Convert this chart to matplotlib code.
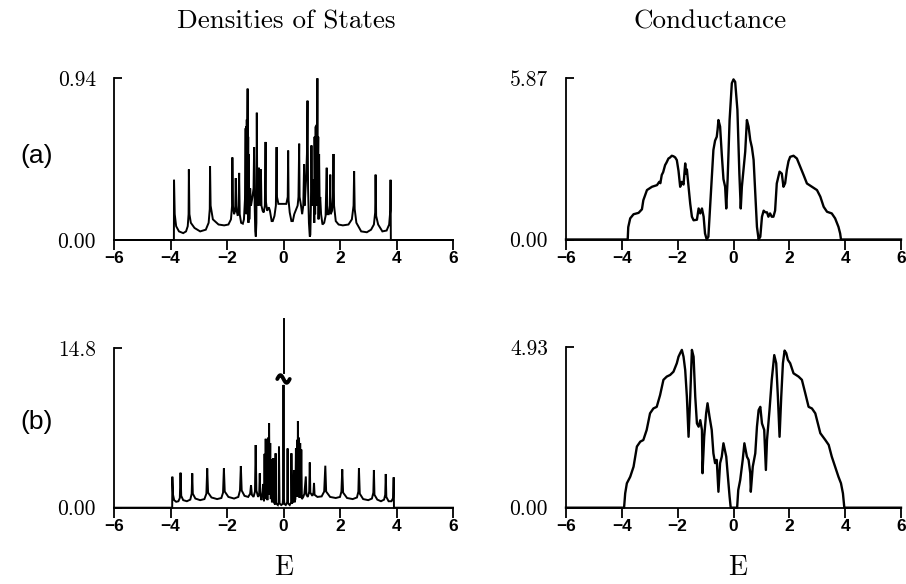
import numpy as np
import matplotlib
matplotlib.use("Agg")
import matplotlib.pyplot as plt

# ---------------- data ----------------
x_ticks = [-6, -4, -2, 0, 2, 4, 6]
x_tick_labels = ["\u22126", "\u22124", "\u22122", "0", "2", "4", "6"]

ymax_dos_a = 0.94
ymax_cond_a = 5.87
ymax_dos_b = 14.8
ymax_cond_b = 4.93

# (a) density of states
dos_a_E = [-6, -3.88, -3.875, -3.85, -3.80, -3.70, -3.55, -3.45, -3.39, -3.36, -3.35, -3.33, -3.28,
           -3.15, -2.95, -2.75, -2.65, -2.61, -2.60, -2.58, -2.50, -2.30, -2.10, -1.95, -1.86, -1.82,
           -1.81, -1.79, -1.75, -1.71, -1.69, -1.67, -1.62, -1.59, -1.57, -1.55, -1.50, -1.44, -1.40,
           -1.36, -1.34, -1.33, -1.32, -1.31, -1.30, -1.29, -1.28, -1.27, -1.26, -1.25, -1.24, -1.23,
           -1.21, -1.18, -1.15, -1.10, -1.06, -1.04, -1.02, -1.00, -0.98, -0.96, -0.945, -0.93, -0.90,
           -0.87, -0.85, -0.82, -0.80, -0.78, -0.74, -0.70, -0.66, -0.635, -0.62, -0.58, -0.52, -0.48,
           -0.42, -0.38, -0.32, -0.27, -0.245, -0.23, -0.18, -0.10, 0.0, 0.10, 0.15, 0.165, 0.18, 0.22,
           0.28, 0.33, 0.38, 0.45, 0.50, 0.53, 0.555, 0.57, 0.62, 0.66, 0.70, 0.73, 0.75, 0.78, 0.80,
           0.83, 0.85, 0.87, 0.90, 0.93, 0.95, 0.97, 0.99, 1.01, 1.04, 1.07, 1.09, 1.10, 1.12, 1.14,
           1.15, 1.17, 1.18, 1.20, 1.21, 1.23, 1.24, 1.26, 1.28, 1.30, 1.33, 1.38, 1.44, 1.49, 1.53,
           1.55, 1.60, 1.64, 1.655, 1.67, 1.72, 1.75, 1.77, 1.79, 1.85, 1.95, 2.10, 2.30, 2.42, 2.48,
           2.50, 2.52, 2.58, 2.75, 2.95, 3.10, 3.20, 3.245, 3.26, 3.28, 3.35, 3.50, 3.65, 3.74, 3.78,
           3.79, 3.80, 6]
dos_a_v = [0, 0, 0.35, 0.15, 0.08, 0.05, 0.04, 0.05, 0.08, 0.15, 0.41, 0.15, 0.10,
           0.07, 0.05, 0.06, 0.10, 0.18, 0.43, 0.20, 0.12, 0.09, 0.085, 0.09, 0.12, 0.20,
           0.48, 0.20, 0.15, 0.17, 0.36, 0.18, 0.14, 0.20, 0.39, 0.15, 0.10, 0.095, 0.12,
           0.25, 0.65, 0.20, 0.66, 0.15, 0.70, 0.20, 0.65, 0.88, 0.30, 0.60, 0.10, 0.50,
           0.12, 0.30, 0.20, 0.25, 0.30, 0.54, 0.20, 0.05, 0.02, 0.10, 0.74, 0.30, 0.20,
           0.42, 0.25, 0.20, 0.41, 0.20, 0.17, 0.16, 0.20, 0.57, 0.22, 0.17, 0.19, 0.17,
           0.11, 0.11, 0.14, 0.20, 0.54, 0.25, 0.21, 0.21, 0.21, 0.21, 0.25, 0.52, 0.23, 0.16,
           0.11, 0.11, 0.15, 0.18, 0.20, 0.25, 0.56, 0.25, 0.20, 0.15, 0.20, 0.44, 0.20, 0.30, 0.35,
           0.50, 0.81, 0.30, 0.10, 0.02, 0.03, 0.20, 0.55, 0.25, 0.20, 0.35, 0.10, 0.60, 0.15, 0.66,
           0.30, 0.67, 0.20, 0.94, 0.30, 0.60, 0.12, 0.50, 0.20, 0.25, 0.15, 0.09, 0.10, 0.14, 0.42,
           0.15, 0.15, 0.20, 0.38, 0.15, 0.17, 0.25, 0.50, 0.20, 0.11, 0.09, 0.085, 0.09, 0.12, 0.20,
           0.40, 0.18, 0.10, 0.05, 0.045, 0.06, 0.09, 0.16, 0.38, 0.14, 0.09, 0.05, 0.055, 0.09, 0.17,
           0.35, 0, 0]

# (a) conductance
cond_a_E = [-6, -3.79, -3.77, -3.70, -3.58, -3.40, -3.28, -3.23, -3.10, -2.92, -2.74, -2.66, -2.62,
            -2.57, -2.52, -2.45, -2.40, -2.33, -2.28, -2.21, -2.15, -2.09, -2.03, -1.97, -1.91, -1.85,
            -1.79, -1.73, -1.70, -1.67, -1.61, -1.55, -1.49, -1.43, -1.31, -1.25, -1.19, -1.13, -1.07,
            -1.02, -0.96, -0.90, -0.81, -0.72, -0.66, -0.60, -0.57, -0.54, -0.48, -0.42, -0.36, -0.30,
            -0.26, -0.21, -0.14, -0.06, 0.0, 0.06, 0.14, 0.21, 0.26, 0.30, 0.42, 0.48, 0.54, 0.60, 0.66,
            0.72, 0.78, 0.84, 0.90, 0.96, 1.02, 1.08, 1.14, 1.20, 1.25, 1.31, 1.37, 1.43, 1.49, 1.55,
            1.65, 1.73, 1.79, 1.85, 1.91, 1.97, 2.03, 2.09, 2.15, 2.21, 2.27, 2.39, 2.51, 2.63, 2.81,
            2.99, 3.11, 3.23, 3.35, 3.52, 3.64, 3.76, 3.82, 3.85, 6]
cond_a_v = [0, 0, 0.45, 0.77, 0.92, 0.97, 1.10, 1.43, 1.80, 1.92, 1.98, 2.10, 2.05,
            2.35, 2.45, 2.71, 2.80, 2.95, 2.98, 3.05, 3.03, 2.99, 2.89, 2.50, 1.92, 2.10,
            2.00, 2.77, 2.40, 2.55, 1.92, 1.30, 0.83, 0.70, 0.72, 1.13, 0.95, 1.13, 0.83,
            0.22, 0.0, 0.10, 1.68, 3.26, 3.60, 3.74, 4.00, 4.35, 4.11, 3.10, 2.20, 1.92,
            1.13, 2.20, 4.35, 5.69, 5.83, 5.74, 4.72, 2.40, 1.13, 1.92, 3.20, 4.35, 4.11, 3.62, 3.35,
            2.90, 1.68, 0.46, 0.0, 0.10, 0.83, 1.05, 0.99, 0.99, 0.83, 0.95, 0.83, 0.83, 1.05, 2.04,
            2.47, 2.40, 1.92, 2.05, 2.53, 2.85, 3.01, 3.03, 3.05, 3.00, 2.95, 2.65, 2.35, 2.04, 1.92,
            1.80, 1.56, 1.19, 1.01, 0.95, 0.77, 0.46, 0.22, 0, 0]

# (b) density of states (central peak runs off scale)
dos_b_E = [-6, -3.94, -3.935, -3.91, -3.87, -3.80, -3.72, -3.67, -3.645, -3.62, -3.55, -3.42, -3.30,
           -3.25, -3.23, -3.21, -3.12, -2.95, -2.80, -2.73, -2.70, -2.67, -2.55, -2.35, -2.20, -2.14,
           -2.11, -2.08, -1.95, -1.75, -1.60, -1.54, -1.51, -1.48, -1.38, -1.25, -1.18, -1.15, -1.12,
           -1.06, -1.01, -0.985, -0.96, -0.90, -0.86, -0.84, -0.82, -0.78, -0.74, -0.72, -0.69, -0.67,
           -0.65, -0.63, -0.61, -0.59, -0.57, -0.55, -0.53, -0.51, -0.49, -0.47, -0.45, -0.43, -0.41,
           -0.38, -0.36, -0.34, -0.30, -0.28, -0.26, -0.20, -0.17, -0.16, -0.14, -0.08, -0.03, -0.01,
           0.0, 0.01, 0.03, 0.08, 0.13, 0.145, 0.16, 0.22, 0.27, 0.28, 0.30, 0.35, 0.37, 0.39, 0.42,
           0.44, 0.46, 0.48, 0.50, 0.51, 0.53, 0.55, 0.57, 0.59, 0.61, 0.63, 0.65, 0.70, 0.74, 0.79,
           0.81, 0.86, 0.91, 0.93, 0.95, 1.02, 1.06, 1.08, 1.10, 1.20, 1.35, 1.44, 1.48, 1.51, 1.65,
           1.85, 2.00, 2.05, 2.08, 2.11, 2.25, 2.45, 2.60, 2.65, 2.67, 2.70, 2.82, 3.00, 3.13, 3.18,
           3.20, 3.22, 3.32, 3.45, 3.56, 3.60, 3.62, 3.64, 3.72, 3.82, 3.88, 3.90, 3.91, 6]
dos_b_v = [0, 0, 2.88, 1.2, 0.7, 0.55, 0.6, 0.9, 3.25, 1.1, 0.7, 0.6, 0.75,
           1.3, 3.19, 1.3, 0.85, 0.7, 0.8, 1.3, 3.65, 1.4, 0.95, 0.8, 0.9, 1.4,
           3.65, 1.5, 1.0, 0.85, 1.0, 1.6, 3.87, 1.6, 1.1, 1.0, 1.3, 2.1, 1.2,
           1.0, 1.5, 5.82, 1.6, 1.0, 1.3, 3.19, 1.2, 0.7, 1.5, 2.2, 0.6, 5.0,
           0.8, 6.4, 1.0, 6.2, 0.7, 6.5, 1.5, 7.83, 1.2, 6.0, 0.8, 4.5, 0.5,
           1.2, 4.6, 0.5, 0.3, 5.05, 0.4, 0.25, 0.5, 5.67, 0.4, 0.25, 0.35, 1.0,
           11.4, 1.0, 0.35, 0.25, 0.5, 5.5, 0.4, 0.25, 0.5, 5.05, 0.4, 0.6, 3.5, 0.5, 0.8,
           5.5, 1.0, 6.3, 1.2, 8.05, 1.0, 6.5, 0.9, 6.0, 1.0, 5.4, 0.8, 1.0, 1.3, 2.9,
           1.2, 1.0, 1.5, 4.2, 1.4, 1.1, 1.4, 2.3, 1.2, 1.0, 1.05, 1.5, 3.9, 1.5, 1.0,
           0.9, 1.0, 1.5, 3.56, 1.4, 0.9, 0.8, 0.95, 1.5, 3.65, 1.3, 0.8, 0.7, 0.85, 1.4,
           3.5, 1.2, 0.75, 0.6, 0.75, 1.2, 3.13, 1.0, 0.6, 0.6, 0.9, 2.82, 0, 0]
dos_b_peak_E = [0.0, 0.0]
dos_b_peak_v = [12.5, 17.5]
dos_b_break_v = 11.95

# (b) conductance
cond_b_E = [-6, -3.92, -3.88, -3.82, -3.70, -3.58, -3.46, -3.34, -3.23, -3.11, -2.99, -2.87, -2.75,
            -2.63, -2.51, -2.39, -2.27, -2.15, -2.03, -1.97, -1.91, -1.85, -1.79, -1.73, -1.67, -1.61,
            -1.55, -1.49, -1.43, -1.37, -1.31, -1.25, -1.19, -1.13, -1.11, -1.05, -0.98, -0.93, -0.86,
            -0.78, -0.72, -0.66, -0.60, -0.54, -0.48, -0.42, -0.36, -0.26, -0.20, -0.14, -0.10, 0.13,
            0.17, 0.24, 0.33, 0.39, 0.48, 0.54, 0.60, 0.62, 0.69, 0.78, 0.84, 0.90, 0.96, 1.02, 1.10,
            1.16, 1.20, 1.29, 1.37, 1.46, 1.53, 1.59, 1.65, 1.71, 1.77, 1.83, 1.89, 1.95, 2.03, 2.15,
            2.33, 2.45, 2.57, 2.69, 2.81, 2.93, 3.11, 3.29, 3.41, 3.52, 3.64, 3.76, 3.85, 3.92, 3.97, 6]
cond_b_v = [0, 0, 0.44, 0.75, 0.95, 1.26, 1.88, 2.03, 2.08, 2.39, 2.90, 3.05, 3.10,
            3.46, 3.93, 4.03, 4.08, 4.18, 4.44, 4.64, 4.75, 4.85, 4.64, 4.23, 3.41, 2.18,
            3.41, 4.85, 4.64, 3.41, 2.59, 2.49, 2.69, 2.39, 1.06, 2.18, 2.90, 3.21, 2.80,
            2.39, 1.67, 1.37, 1.47, 0.49, 1.37, 1.57, 1.98, 1.57, 0.95, 0.34, 0, 0,
            0.54, 0.85, 1.47, 1.98, 1.57, 1.47, 1.06, 0.49, 1.26, 1.67, 2.49, 3.00, 3.10, 2.59, 2.39,
            1.16, 2.08, 3.00, 3.93, 4.69, 4.44, 3.41, 2.18, 3.41, 4.44, 4.83, 4.75, 4.54, 4.44, 4.13,
            4.03, 3.93, 3.52, 3.10, 3.05, 2.90, 2.29, 2.08, 1.93, 1.57, 1.26, 0.95, 0.75, 0.44, 0, 0]

# ---------------- figure ----------------
W, H = 906, 584
fig = plt.figure(figsize=(W / 100, H / 100), dpi=100)


def frac_rect(x0, y_top, x1, y_bot):
    return [x0 / W, 1 - y_bot / H, (x1 - x0) / W, (y_bot - y_top) / H]


serif = "cmr10"
LW = 1.4


def setup(ax, ymax, ylab):
    ax.set_xlim(-6, 6)
    ax.set_ylim(0, ymax)
    for s in ("top", "right"):
        ax.spines[s].set_visible(False)
    ax.spines["left"].set_bounds(0, ymax)
    ax.spines["bottom"].set_bounds(-6, 6)
    for s in ("left", "bottom"):
        ax.spines[s].set_linewidth(1.3)
    ax.set_xticks(x_ticks)
    ax.set_xticklabels(x_tick_labels, fontfamily="Liberation Sans", fontweight="bold", fontsize=12.5)
    ax.set_yticks([0, ymax])
    ax.set_yticklabels(["0.00", ylab], fontfamily=serif, fontsize=15.5)
    ax.tick_params(axis="x", direction="out", length=7, width=1.3, pad=1.0)
    ax.tick_params(axis="y", direction="in", length=6, width=1.3, pad=13)
    ax.patch.set_visible(False)


ax1 = fig.add_axes(frac_rect(114, 78.3, 453, 240))
setup(ax1, ymax_dos_a, "0.94")
ax1.plot(dos_a_E, dos_a_v, color="black", lw=LW, clip_on=False, solid_joinstyle="miter")

ax2 = fig.add_axes(frac_rect(566, 78.3, 901, 239.5))
setup(ax2, ymax_cond_a, "5.87")
ax2.plot(cond_a_E, cond_a_v, color="black", lw=1.7, clip_on=False)

ax3 = fig.add_axes(frac_rect(114, 348.3, 453, 507.7))
setup(ax3, ymax_dos_b, "14.8")
ax3.plot(dos_b_E, dos_b_v, color="black", lw=LW, clip_on=False, solid_joinstyle="miter")
ax3.plot(dos_b_peak_E, dos_b_peak_v, color="black", lw=LW, clip_on=False)
# break mark on the off-scale peak
tt = np.linspace(-1, 1, 40)
ax3.plot(0.22 * tt, dos_b_break_v - 0.35 * np.sin(np.pi * tt),
         color="black", lw=2.8, clip_on=False, solid_capstyle="round")

ax4 = fig.add_axes(frac_rect(566, 347.3, 901, 507.7))
setup(ax4, ymax_cond_b, "4.93")
ax4.plot(cond_b_E, cond_b_v, color="black", lw=1.7, clip_on=False)

# titles and labels
fig.text(286 / W, 1 - 22 / H, "Densities of States", fontfamily=serif, fontsize=19.5,
         ha="center", va="center")
fig.text(710 / W, 1 - 22 / H, "Conductance", fontfamily=serif, fontsize=19.5,
         ha="center", va="center")
fig.text(37 / W, 1 - 156 / H, "(a)", fontfamily="Liberation Sans", fontsize=19,
         ha="center", va="center")
fig.text(37 / W, 1 - 422 / H, "(b)", fontfamily="Liberation Sans", fontsize=19,
         ha="center", va="center")
fig.text(284 / W, 1 - 568 / H, "E", fontfamily=serif, fontsize=20, ha="center", va="center")
fig.text(738 / W, 1 - 568 / H, "E", fontfamily=serif, fontsize=20, ha="center", va="center")

fig.savefig("out.png", dpi=100, facecolor="white")
